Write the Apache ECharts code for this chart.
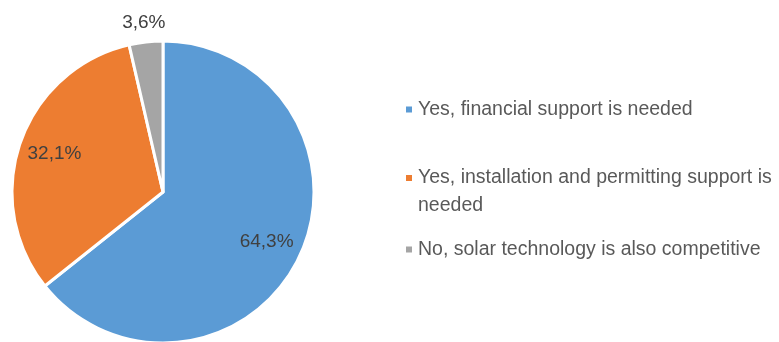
<!DOCTYPE html>
<html>
<head>
<meta charset="utf-8">
<script src="https://cdn.jsdelivr.net/npm/echarts@6/dist/echarts.min.js"></script>
<style>html,body{margin:0;padding:0;background:#fff}#c{width:779px;height:342px}</style>
</head>
<body>
<div id="c"></div>
<script>
const categories = [
  'Yes, financial support is needed',
  'Yes, installation and permitting support is needed',
  'No, solar technology is also competitive'
];
const values = [64.3, 32.1, 3.6];
const colors = ['#5B9BD5', '#ED7D31', '#A5A5A5'];

const FONT = '"Liberation Sans", Arial, sans-serif';
const fmt = p => p.value.toFixed(1).replace('.', ',') + '%';
const data = categories.map((n, i) => ({ name: n, value: values[i], itemStyle: { color: colors[i] } }));

const chart = echarts.init(document.getElementById('c'));
const labelStyle = { fontFamily: FONT, fontSize: 19, color: '#404040' };
const legendBase = {
  orient: 'vertical', left: 404, padding: 0, itemWidth: 8, itemHeight: 8,
  icon: 'rect', selectedMode: false,
  textStyle: { fontFamily: FONT, fontSize: 19.5, color: '#595959', lineHeight: 27 }
};
chart.setOption({
  animation: false,
  legend: [
    Object.assign({}, legendBase, { top: 96, data: [categories[0]] }),
    Object.assign({}, legendBase, { top: 136, data: [categories[1]],
      formatter: name => '\n' + name,
      textStyle: Object.assign({}, legendBase.textStyle, { lineHeight: 28, width: 362, overflow: 'break' }) }),
    Object.assign({}, legendBase, { top: 236, data: [categories[2]] })
  ],
  series: [
    {
      type: 'pie', center: [163, 192], radius: 151, startAngle: 90, clockwise: true,
      itemStyle: { borderColor: '#fff', borderWidth: 3 },
      label: { show: false }, labelLine: { show: false },
      data: data
    },
    {
      type: 'pie', center: [163, 192], radius: [76, 148], startAngle: 90, clockwise: true, silent: true,
      itemStyle: { color: 'rgba(0,0,0,0)' },
      label: Object.assign({ show: true, position: 'inside', formatter: fmt }, labelStyle),
      labelLine: { show: false },
      data: categories.map((n, i) => ({ name: n, value: values[i], label: { show: i < 2 } }))
    },
    {
      type: 'pie', center: [163, 192], radius: [156, 178], startAngle: 90, clockwise: true, silent: true,
      itemStyle: { color: 'rgba(0,0,0,0)' },
      label: Object.assign({ show: true, position: 'inside', formatter: fmt }, labelStyle),
      labelLine: { show: false },
      data: categories.map((n, i) => ({ name: n, value: values[i], label: { show: i === 2 } }))
    }
  ]
});
</script>
</body>
</html>
